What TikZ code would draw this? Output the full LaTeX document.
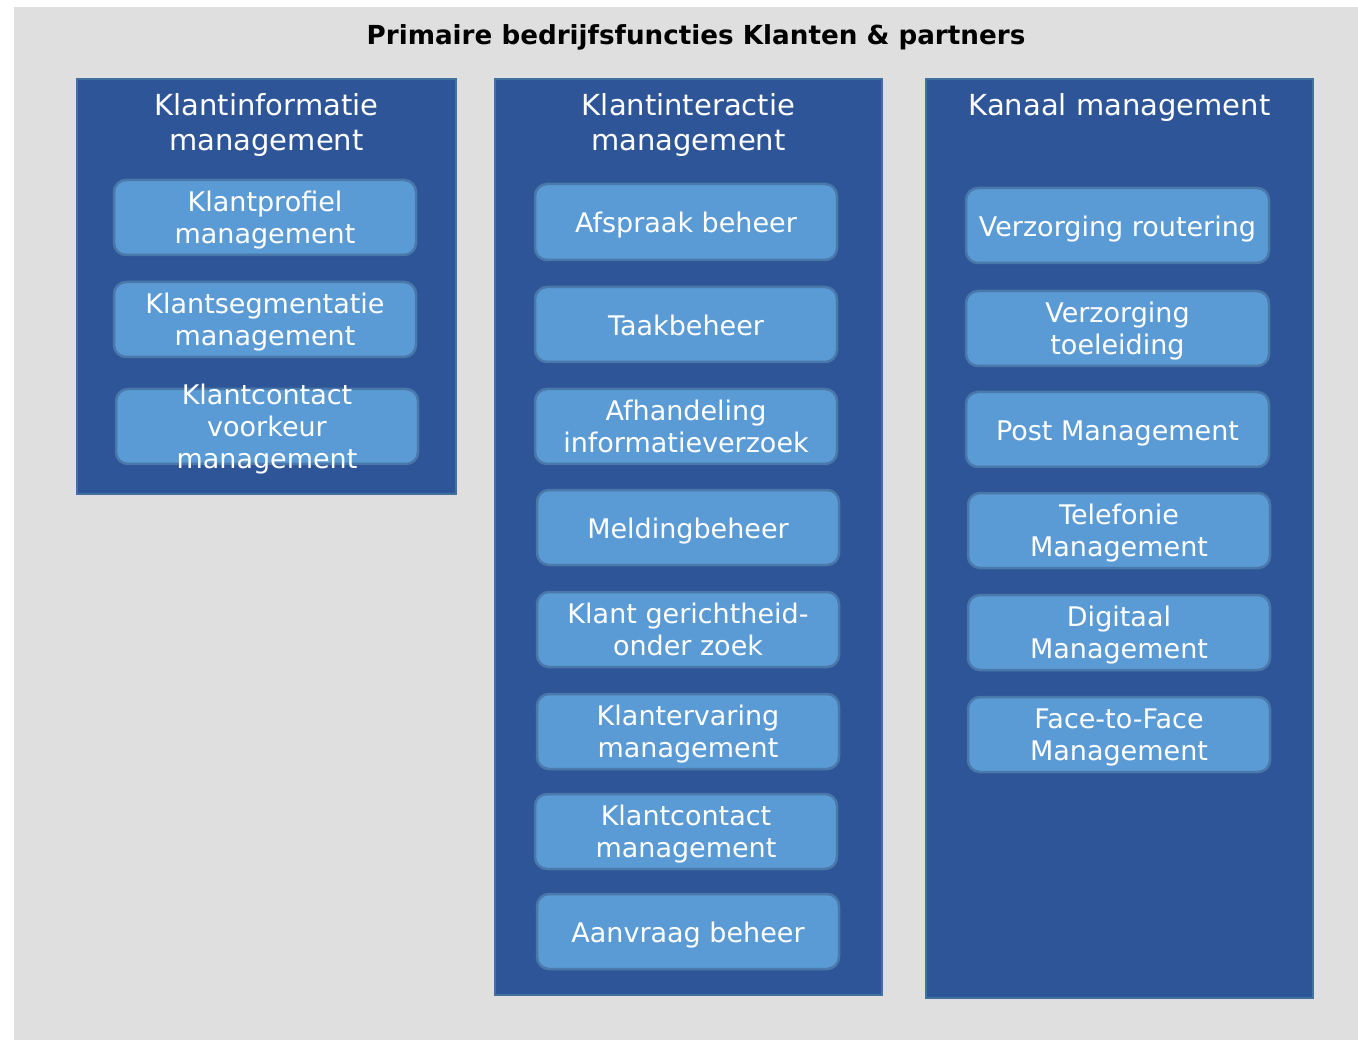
\documentclass[tikz,border=0pt]{standalone}
\usepackage{fontspec}
\setmainfont{DejaVu Sans}
\definecolor{bggray}{HTML}{DFDFDF}
\definecolor{colblue}{HTML}{2E5597}
\definecolor{coledge}{HTML}{41719C}
\definecolor{boxblue}{HTML}{5B9BD5}
\definecolor{boxedge}{HTML}{4A78AA}
\begin{document}
\begin{tikzpicture}[x=1pt,y=-1pt,
  column/.style={fill=colblue,draw=coledge,line width=2.5pt},
  item/.style={fill=boxblue,draw=boxedge,line width=2.5pt,rounded corners=12pt},
  itemtext/.style={text=white,align=center,font=\fontsize{27}{32}\selectfont,inner sep=0pt,
    execute at begin node=\strut, execute at end node=\strut},
  coltitle/.style={text=white,align=center,font=\fontsize{29}{35}\selectfont,inner sep=0pt},
]
\useasboundingbox (0,0) rectangle (1358,1040);
\fill[bggray] (14,7) rectangle (1358,1040);
\node[font=\bfseries\fontsize{26.2}{30}\selectfont,inner sep=0pt] (title) at (696,37) {Primaire bedrijfsfuncties Klanten \& partners};

% columns
\draw[column] (77,79) rectangle (456,494);
\draw[column] (495,79) rectangle (882,995);
\draw[column] (926,79) rectangle (1313,998);
\node[coltitle] (c1) at (266.5,125) {Klantinformatie\\management};
\node[coltitle] (c2) at (688.5,125) {Klantinteractie\\management};
\node[coltitle] (c3) at (1119.5,108) {Kanaal management};

% boxes: \itembox{name}{x1}{y1}{x2}{y2}{text}
\newcommand{\itembox}[6]{%
  \draw[item] (#2,#3) rectangle (#4,#5);
  \node[itemtext] (#1) at ({(#2+#4)/2},{(#3+#5)/2+4.5}) {#6};}

\itembox{a1}{114}{180}{416}{255}{Klantprofiel\\management}
\itembox{a2}{114}{282}{416}{357}{Klantsegmentatie\\management}
\itembox{a3}{116}{389}{418}{464}{Klantcontact\\voorkeur\\management}

\itembox{b1}{535}{184}{837}{260}{Afspraak beheer}
\itembox{b2}{535}{287}{837}{362}{Taakbeheer}
\itembox{b3}{535}{389}{837}{464}{Afhandeling\\informatieverzoek}
\itembox{b4}{537}{490}{839}{565}{Meldingbeheer}
\itembox{b5}{537}{592}{839}{667}{Klant gerichtheid-\\onder zoek}
\itembox{b6}{537}{694}{839}{769}{Klantervaring\\management}
\itembox{b7}{535}{794}{837}{869}{Klantcontact\\management}
\itembox{b8}{537}{894}{839}{969}{Aanvraag beheer}

\itembox{k1}{966}{188}{1269}{263}{Verzorging routering}
\itembox{k2}{966}{291}{1269}{366}{Verzorging\\toeleiding}
\itembox{k3}{966}{392}{1269}{467}{Post Management}
\itembox{k4}{968}{493}{1270}{568}{Telefonie\\Management}
\itembox{k5}{968}{595}{1270}{670}{Digitaal\\Management}
\itembox{k6}{968}{697}{1270}{772}{Face-to-Face\\Management}
\end{tikzpicture}
\end{document}
